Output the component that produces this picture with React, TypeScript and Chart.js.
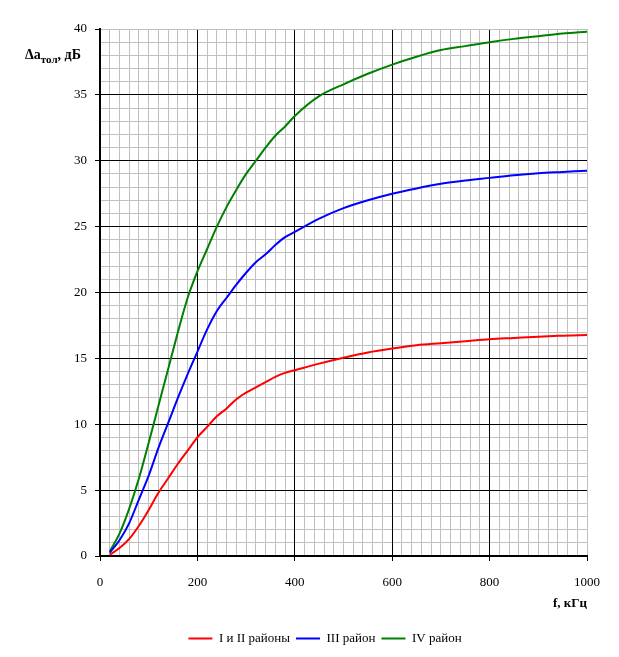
import { Chart, registerables } from "chart.js";
import { useEffect, useRef } from "react";

Chart.register(...registerables);

// частота, кГц
const freq = [20, 40, 60, 80, 100, 120, 140, 160, 180, 200, 220, 240, 260, 280, 300, 320, 340, 360, 380, 400,
    450, 500, 550, 600, 650, 700, 750, 800, 850, 900, 950, 1000];

const rayonI_II = [0.1, 0.6, 1.3, 2.3, 3.5, 4.8, 5.9, 7.0, 8.0, 9.0, 9.8, 10.6, 11.2, 11.9, 12.4, 12.8, 13.2, 13.6, 13.9, 14.1,
    14.6, 15.05, 15.45, 15.75, 16.0, 16.15, 16.3, 16.45, 16.55, 16.65, 16.72, 16.78];

const rayonIII = [0.25, 1.2, 2.5, 4.3, 6.1, 8.2, 10.1, 12.0, 13.8, 15.5, 17.2, 18.6, 19.6, 20.6, 21.5, 22.3, 22.9, 23.6, 24.2, 24.6,
    25.6, 26.4, 27.0, 27.5, 27.9, 28.25, 28.5, 28.7, 28.9, 29.05, 29.15, 29.25];

const rayonIV = [0.35, 1.7, 3.6, 5.9, 8.6, 11.4, 14.2, 17.0, 19.6, 21.6, 23.3, 25.0, 26.5, 27.8, 29.0, 30.0, 31.0, 31.9, 32.6, 33.4,
    34.9, 35.8, 36.6, 37.3, 37.9, 38.4, 38.7, 39.0, 39.25, 39.45, 39.65, 39.8];

const seriesNames = ["I и II районы", "III район", "IV район"];
const seriesColors = ["#ff0000", "#0000ff", "#008000"];

const FONT = "'Liberation Serif', 'Times New Roman', serif";
const GRAY = "#c0c0c0";

// подпись оси Y с нижним индексом
const yTitlePlugin = {
    id: "yTitle",
    afterDraw(chart: Chart) {
        const ctx = chart.ctx;
        ctx.save();
        ctx.fillStyle = "#000";
        ctx.textBaseline = "alphabetic";
        ctx.textAlign = "left";
        let x = 25;
        ctx.font = `bold 14px ${FONT}`;
        ctx.fillText("Δa", x, 59);
        x += ctx.measureText("Δa").width;
        ctx.font = `bold 11px ${FONT}`;
        ctx.fillText("тол", x, 63);
        x += ctx.measureText("тол").width;
        ctx.font = `bold 14px ${FONT}`;
        ctx.fillText(", дБ", x, 59);
        ctx.restore();
    }
};

// мелкая сетка под основной
const minorScale = (axis: "x" | "y", step: number, max: number) => ({
    type: "linear" as const,
    axis,
    position: axis === "x" ? "bottom" : "left",
    min: 0,
    max,
    z: -1,
    ticks: { display: false, stepSize: step, autoSkip: false },
    grid: { color: GRAY, drawTicks: false, tickLength: 0 },
    border: { display: false }
});

const App = () => {
    const chartRef = useRef<HTMLCanvasElement>(null);

    useEffect(() => {
        if (!chartRef.current) return;
        const all = [rayonI_II, rayonIII, rayonIV];
        const chart = new Chart(chartRef.current, {
            type: "line",
            data: {
                datasets: all.map((arr, i) => ({
                    label: seriesNames[i],
                    data: freq.map((f, j) => ({ x: f, y: arr[j] })),
                    borderColor: seriesColors[i],
                    backgroundColor: seriesColors[i],
                    borderWidth: 2,
                    pointRadius: 0,
                    pointStyle: "line",
                    cubicInterpolationMode: "monotone" as const
                }))
            },
            options: {
                animation: false,
                responsive: true,
                maintainAspectRatio: false,
                layout: { padding: { left: 63, right: 32, top: 29, bottom: 2 } },
                plugins: {
                    tooltip: { enabled: false },
                    legend: {
                        position: "bottom",
                        labels: {
                            usePointStyle: true,
                            pointStyleWidth: 24,
                            padding: 6,
                            color: "#000",
                            font: { family: FONT, size: 13 }
                        }
                    }
                },
                scales: {
                    xMinor: minorScale("x", 20, 1000),
                    yMinor: minorScale("y", 1, 40),
                    x: {
                        type: "linear",
                        min: 0,
                        max: 1000,
                        afterFit: (s: any) => { s.height = 70; },
                        ticks: {
                            stepSize: 200,
                            maxRotation: 0,
                            padding: 14,
                            color: "#000",
                            font: { family: FONT, size: 13 },
                            callback: (v: any) => String(v)
                        },
                        grid: {
                            tickLength: 5,
                            color: (c: any) => (c.tick.value === 1000 ? GRAY : "#000"),
                            tickColor: "#000"
                        },
                        border: { color: "#000", width: 2 },
                        title: {
                            display: true,
                            text: "f, кГц",
                            align: "end",
                            color: "#000",
                            font: { family: FONT, size: 13, weight: "bold" },
                            padding: { top: 0, bottom: 15 }
                        }
                    },
                    y: {
                        min: 0,
                        max: 40,
                        afterFit: (s: any) => { s.width = 37; },
                        ticks: {
                            stepSize: 5,
                            padding: 8,
                            color: "#000",
                            font: { family: FONT, size: 13 },
                            callback: (v: any) => String(v)
                        },
                        grid: {
                            tickLength: 5,
                            color: (c: any) => (c.tick.value === 40 ? GRAY : "#000"),
                            tickColor: "#000"
                        },
                        border: { color: "#000", width: 2 }
                    }
                }
            },
            plugins: [yTitlePlugin]
        });
        return () => {
            chart.destroy();
        };
    }, []);

    return (
        <div style={{ position: "absolute", left: 0, top: 0, width: 619, height: 657, background: "#fff" }}>
            <canvas ref={chartRef} />
        </div>
    );
};

export default App;
